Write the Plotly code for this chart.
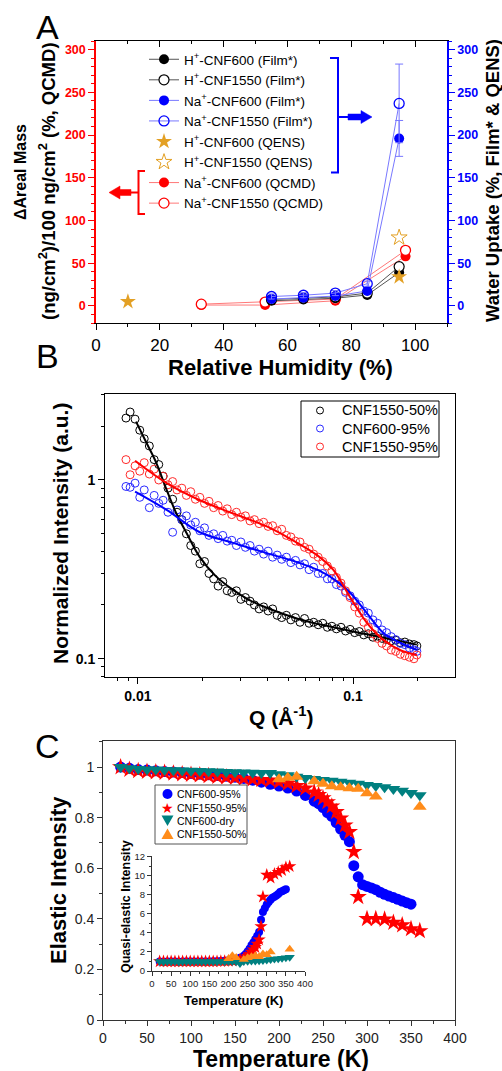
import plotly.graph_objects as go

W, H = 502, 1071
FONT = "Liberation Sans, Arial, sans-serif"


def PX(x):
    return x / W


def PY(y):
    return 1 - y / H


# ---------------- Panel A data ----------------
rh_film = [55, 65, 75, 85, 95]
h600_film = [6, 7.5, 9, 12.8, 39]
h1550_film = [7.5, 9, 10.5, 15, 46]
na600_film = [8, 9.5, 11.5, 17.5, 196]
na600_film_err = [2, 2, 2, 2, 21]
na1550_film = [11, 12.5, 15, 26, 237]
na1550_film_err = [3, 3, 3, 3, 46]
rh_qens600 = [10, 95]
h600_qens = [5, 34]
rh_qens1550 = [95]
h1550_qens = [80]
rh_qcmd = [33, 53, 75, 97]
na600_qcmd = [1, 1, 6, 58]
na1550_qcmd = [2, 4.5, 8, 65]

# ---------------- Panel B data ----------------
q_vals = [0.0088, 0.0092, 0.0097, 0.0102, 0.0107, 0.0113, 0.0119, 0.0125, 0.0131, 0.0138,
          0.0145, 0.0152, 0.016, 0.0168, 0.0176, 0.0185, 0.0194, 0.0204, 0.0214, 0.0225,
          0.0236, 0.0248, 0.026, 0.0273, 0.0287, 0.0301, 0.0316, 0.0332, 0.0348, 0.0366,
          0.0384, 0.0403, 0.0423, 0.0444, 0.0466, 0.049, 0.0514, 0.054, 0.0567, 0.0595,
          0.0625, 0.0656, 0.0689, 0.0723, 0.076, 0.0797, 0.0837, 0.0879, 0.0923, 0.0969,
          0.1018, 0.1069, 0.1122, 0.1178, 0.1237, 0.1299, 0.1364, 0.1432, 0.1504, 0.1579,
          0.1658, 0.1741, 0.1828, 0.1919, 0.198]
i_1550_50 = [2.22, 2.40, 2.19, 1.90, 1.70, 1.55, 1.30, 1.22, 1.05, 0.90,
             0.78, 0.66, 0.60, 0.50, 0.43, 0.40, 0.34, 0.35, 0.30, 0.28,
             0.255, 0.27, 0.24, 0.235, 0.24, 0.215, 0.22, 0.21, 0.20, 0.19,
             0.195, 0.185, 0.19, 0.175, 0.17, 0.175, 0.165, 0.17, 0.16, 0.168,
             0.158, 0.16, 0.155, 0.158, 0.15, 0.152, 0.147, 0.15, 0.143, 0.146,
             0.14, 0.142, 0.136, 0.138, 0.132, 0.134, 0.13, 0.128, 0.126, 0.127,
             0.123, 0.124, 0.121, 0.12, 0.118]
i_600_95 = [0.92, 0.91, 0.96, 0.80, 0.88, 0.70, 0.82, 0.74, 0.77, 0.66,
            0.51, 0.68, 0.60, 0.63, 0.56, 0.58, 0.52, 0.54, 0.49, 0.50,
            0.47, 0.49, 0.455, 0.46, 0.43, 0.45, 0.42, 0.43, 0.40, 0.41,
            0.385, 0.40, 0.37, 0.38, 0.36, 0.37, 0.345, 0.355, 0.335, 0.34,
            0.315, 0.325, 0.30, 0.30, 0.28, 0.28, 0.26, 0.255, 0.235, 0.225,
            0.21, 0.20, 0.185, 0.18, 0.165, 0.158, 0.145, 0.14, 0.133, 0.128,
            0.122, 0.12, 0.115, 0.112, 0.11]
i_1550_95 = [1.30, 1.07, 1.20, 1.12, 1.25, 1.08, 1.15, 1.00, 1.05, 0.94,
             0.98, 0.88, 0.90, 0.82, 0.86, 0.78, 0.80, 0.74, 0.76, 0.70,
             0.72, 0.67, 0.69, 0.64, 0.66, 0.62, 0.63, 0.59, 0.60, 0.57,
             0.58, 0.55, 0.555, 0.52, 0.53, 0.49, 0.48, 0.455, 0.45, 0.42,
             0.41, 0.385, 0.37, 0.35, 0.33, 0.31, 0.285, 0.265, 0.24, 0.22,
             0.195, 0.18, 0.16, 0.15, 0.138, 0.13, 0.122, 0.118, 0.112, 0.11,
             0.106, 0.104, 0.102, 0.10, 0.105]
fit_q_1550_50 = [0.0098, 0.011, 0.0122, 0.0136, 0.015, 0.0169, 0.0194, 0.023, 0.0277, 0.033,
                 0.0397, 0.0567, 0.081, 0.116, 0.198]
fit_i_1550_50 = [2.12, 1.6, 1.24, 0.88, 0.66, 0.50, 0.37, 0.29, 0.243, 0.213,
                 0.193, 0.166, 0.15, 0.137, 0.12]
fit_q_600_95 = [0.0097, 0.0136, 0.0194, 0.0277, 0.0397, 0.0567, 0.070, 0.081, 0.0967, 0.116,
                0.138, 0.165, 0.198]
fit_i_600_95 = [0.86, 0.68, 0.51, 0.445, 0.39, 0.343, 0.31, 0.28, 0.235, 0.18,
                0.14, 0.123, 0.112]
fit_q_1550_95 = [0.0097, 0.0136, 0.0194, 0.0277, 0.0397, 0.0525, 0.068, 0.081, 0.0967, 0.116,
                 0.138, 0.165, 0.198]
fit_i_1550_95 = [1.28, 0.96, 0.77, 0.65, 0.55, 0.46, 0.38, 0.314, 0.222, 0.159,
                 0.128, 0.112, 0.105]

# ---------------- Panel C data ----------------
t_600_95 = [20, 30, 40, 50, 60, 70, 80, 90, 100, 110, 120, 130, 140, 150, 160, 170, 180, 190, 200,
            210, 220, 230, 240, 245, 250, 255, 260, 265, 270, 275, 280, 285, 290, 295, 300,
            305, 310, 315, 320, 325, 330, 335, 340, 345, 350]
el_600_95 = [1.0, 0.995, 0.99, 0.988, 0.985, 0.982, 0.98, 0.978, 0.975, 0.972, 0.97, 0.967, 0.964,
             0.96, 0.955, 0.948, 0.94, 0.932, 0.925,
             0.917, 0.905, 0.888, 0.865, 0.855, 0.84, 0.82, 0.805, 0.78, 0.755, 0.73, 0.705, 0.61,
             0.566, 0.535, 0.528, 0.522, 0.515, 0.505, 0.497, 0.49, 0.484, 0.477, 0.47, 0.464, 0.458]
qe_600_95 = [1.0, 0.98, 1.0, 0.99, 1.0, 0.98, 1.0, 0.99, 1.0, 1.0, 0.99, 1.0, 1.01, 1.0, 1.02,
             1.03, 1.05, 1.08, 1.12,
             1.18, 1.25, 1.4, 1.6, 1.8, 2.05, 2.35, 2.7, 3.0, 3.35, 3.7, 4.1, 5.4, 6.2, 6.6, 7.0,
             7.25, 7.5, 7.7, 7.8, 7.95, 8.1, 8.3, 8.4, 8.5, 8.6]

t_1550_95 = [20, 30, 40, 50, 60, 70, 80, 90, 100, 110, 120, 130, 140, 150, 160, 170, 180, 190, 200,
             210, 220, 230, 240, 245, 250, 255, 260, 265, 270, 275, 280, 285, 290,
             300, 310, 320, 330, 340, 350, 360]
el_1550_95 = [1.0, 0.99, 0.985, 0.982, 0.98, 0.978, 0.975, 0.972, 0.97, 0.968, 0.965, 0.962, 0.96,
              0.958, 0.955, 0.952, 0.95, 0.948, 0.942,
              0.935, 0.926, 0.916, 0.9, 0.89, 0.877, 0.862, 0.845, 0.823, 0.797, 0.77, 0.744,
              0.665, 0.487, 0.40, 0.40, 0.398, 0.385, 0.375, 0.36, 0.352]
qe_1550_95 = [1.0, 1.0, 0.99, 1.0, 1.0, 0.99, 1.0, 1.0, 1.0, 0.99, 1.0, 1.0, 1.0, 1.0, 1.0, 1.01,
              1.02, 1.03, 1.05,
              1.08, 1.12, 1.18, 1.3, 1.4, 1.55, 1.75, 2.0, 2.25, 2.5, 2.85, 3.3, 4.7, 7.8,
              10.1, 9.8, 10.2, 10.4, 10.6, 10.9, 11.0]

t_600_dry = [20, 30, 40, 50, 60, 70, 80, 90, 100, 110, 120, 130, 140, 150, 160, 170, 180, 190,
             200, 210, 220, 230, 240, 250, 260, 270, 280, 290, 300, 310, 320, 330, 340, 350, 360]
el_600_dry = [1.0, 0.995, 0.992, 0.99, 0.99, 0.988, 0.987, 0.986, 0.985, 0.984, 0.983, 0.982,
              0.98, 0.979, 0.978, 0.977, 0.976, 0.976, 0.972, 0.968, 0.962, 0.957, 0.953, 0.949,
              0.946, 0.942, 0.938, 0.934, 0.929, 0.925, 0.92, 0.913, 0.906, 0.897, 0.889]
qe_600_dry = [1.0, 0.95, 1.0, 0.97, 1.0, 0.96, 0.98, 1.0, 0.97, 0.99, 1.0, 0.97, 0.98, 1.0,
              0.98, 0.97, 1.0, 0.98, 1.0, 1.0, 0.98, 0.8, 1.0, 1.02, 1.05, 1.05, 1.08, 1.1,
              1.15, 1.2, 1.25, 1.3, 1.35, 1.4, 1.45]

t_1550_50 = [200, 210, 220, 240, 250, 260, 270, 280, 290, 300, 310, 360]
el_1550_50 = [0.952, 0.958, 0.962, 0.944, 0.934, 0.924, 0.92, 0.916, 0.914, 0.896, 0.884, 0.843]
qe_1550_50 = [1.3, 1.6, 1.4, 1.2, 1.4, 1.5, 1.6, 1.5, 1.8, 1.7, 2.0, 2.3]

# ---------------- colours ----------------
BLK_LINE = "#555555"
BLU = "#0000ff"
BLU_LINE = "#7878ff"
RED = "#ff0000"
RED_LINE = "#ff7878"
GOLD = "#e3a024"
TEAL = "#008080"
ORANGE = "#ff8c1a"

fig = go.Figure()

# ---------------- Panel A traces ----------------
fig.add_trace(go.Scatter(
    x=rh_qcmd, y=na600_qcmd, mode="lines+markers", name="Na<sup>+</sup>-CNF600 (QCMD)",
    line=dict(color=RED_LINE, width=1), marker=dict(symbol="circle", size=10, color=RED),
    legendrank=7, xaxis="x", yaxis="y", legend="legend"))
fig.add_trace(go.Scatter(
    x=rh_qcmd, y=na1550_qcmd, mode="lines+markers", name="Na<sup>+</sup>-CNF1550 (QCMD)",
    line=dict(color=RED_LINE, width=1),
    marker=dict(symbol="circle", size=10, color="white", line=dict(color=RED, width=1.3)),
    legendrank=8, xaxis="x", yaxis="y", legend="legend"))
fig.add_trace(go.Scatter(
    x=rh_film, y=h600_film, mode="lines+markers", name="H<sup>+</sup>-CNF600 (Film*)",
    line=dict(color=BLK_LINE, width=1), marker=dict(symbol="circle", size=10, color="black"),
    legendrank=1, xaxis="x", yaxis="y2", legend="legend"))
fig.add_trace(go.Scatter(
    x=rh_film, y=h1550_film, mode="lines+markers", name="H<sup>+</sup>-CNF1550 (Film*)",
    line=dict(color=BLK_LINE, width=1),
    marker=dict(symbol="circle", size=10, color="white", line=dict(color="black", width=1.2)),
    legendrank=2, xaxis="x", yaxis="y2", legend="legend"))
fig.add_trace(go.Scatter(
    x=rh_film, y=na600_film, mode="lines+markers", name="Na<sup>+</sup>-CNF600 (Film*)",
    line=dict(color=BLU_LINE, width=1), marker=dict(symbol="circle", size=10, color=BLU),
    error_y=dict(type="data", array=na600_film_err, color=BLU_LINE, thickness=1, width=4),
    legendrank=3, xaxis="x", yaxis="y2", legend="legend"))
fig.add_trace(go.Scatter(
    x=rh_film, y=na1550_film, mode="lines+markers", name="Na<sup>+</sup>-CNF1550 (Film*)",
    line=dict(color=BLU_LINE, width=1),
    marker=dict(symbol="circle-open", size=10, color=BLU, line=dict(width=1.3)),
    error_y=dict(type="data", array=na1550_film_err, color=BLU_LINE, thickness=1, width=4),
    legendrank=4, xaxis="x", yaxis="y2", legend="legend"))
fig.add_trace(go.Scatter(
    x=rh_qens600, y=h600_qens, mode="markers", name="H<sup>+</sup>-CNF600 (QENS)",
    marker=dict(symbol="star", size=12, color=GOLD, line=dict(width=0)),
    legendrank=5, xaxis="x", yaxis="y2", legend="legend"))
fig.add_trace(go.Scatter(
    x=rh_qens1550, y=h1550_qens, mode="markers", name="H<sup>+</sup>-CNF1550 (QENS)",
    marker=dict(symbol="star-open", size=12, color=GOLD, line=dict(width=1)),
    legendrank=6, xaxis="x", yaxis="y2", legend="legend"))
# empty trace so the mirrored top axis of panel A is drawn
fig.add_trace(go.Scatter(x=[None], y=[None], xaxis="x2", yaxis="y", showlegend=False,
                         hoverinfo="skip"))

# ---------------- Panel B traces ----------------
for ys, col in [(i_1550_50, "black"), (i_600_95, "#2a2aff"), (i_1550_95, "#ff2a2a")]:
    fig.add_trace(go.Scatter(
        x=q_vals, y=ys, mode="markers", showlegend=False, xaxis="x3", yaxis="y3",
        marker=dict(symbol="circle-open", size=8, color=col, line=dict(width=1))))
for fx, fy, col in [(fit_q_1550_50, fit_i_1550_50, "black"),
                    (fit_q_600_95, fit_i_600_95, "#0000ff"),
                    (fit_q_1550_95, fit_i_1550_95, "#ff0000")]:
    fig.add_trace(go.Scatter(
        x=fx, y=fy, mode="lines", showlegend=False, xaxis="x3", yaxis="y3",
        line=dict(color=col, width=2, shape="spline", smoothing=1.0)))

# ---------------- Panel C traces ----------------
fig.add_trace(go.Scatter(x=t_600_95, y=el_600_95, mode="markers", showlegend=False,
                         xaxis="x4", yaxis="y4",
                         marker=dict(symbol="circle", size=11, color=BLU)))
fig.add_trace(go.Scatter(x=t_1550_95, y=el_1550_95, mode="markers", showlegend=False,
                         xaxis="x4", yaxis="y4",
                         marker=dict(symbol="star", size=13, color=RED)))
fig.add_trace(go.Scatter(x=t_600_dry, y=el_600_dry, mode="markers", showlegend=False,
                         xaxis="x4", yaxis="y4",
                         marker=dict(symbol="triangle-down", size=12, color=TEAL)))
fig.add_trace(go.Scatter(x=t_1550_50, y=el_1550_50, mode="markers", showlegend=False,
                         xaxis="x4", yaxis="y4",
                         marker=dict(symbol="triangle-up", size=12, color=ORANGE)))
# inset
fig.add_trace(go.Scatter(x=t_600_95, y=qe_600_95, mode="markers", showlegend=False,
                         xaxis="x5", yaxis="y5",
                         marker=dict(symbol="circle", size=8, color=BLU)))
fig.add_trace(go.Scatter(x=t_1550_95, y=qe_1550_95, mode="markers", showlegend=False,
                         xaxis="x5", yaxis="y5",
                         marker=dict(symbol="star", size=10, color=RED)))
fig.add_trace(go.Scatter(x=t_600_dry, y=qe_600_dry, mode="markers", showlegend=False,
                         xaxis="x5", yaxis="y5",
                         marker=dict(symbol="triangle-down", size=9, color=TEAL)))
fig.add_trace(go.Scatter(x=t_1550_50, y=qe_1550_50, mode="markers", showlegend=False,
                         xaxis="x5", yaxis="y5",
                         marker=dict(symbol="triangle-up", size=9, color=ORANGE)))

# ---------------- axes ----------------
common = dict(showgrid=False, zeroline=False)
b_minor_x = [0.008, 0.009, 0.02, 0.03, 0.04, 0.05, 0.06, 0.07, 0.08, 0.09, 0.2]
b_minor_y = [0.08, 0.09, 0.2, 0.3, 0.4, 0.5, 0.6, 0.7, 0.8, 0.9, 2, 3]

fig.update_layout(
    width=W, height=H, margin=dict(l=0, r=0, t=0, b=0, autoexpand=False),
    paper_bgcolor="white", plot_bgcolor="white",
    font=dict(family=FONT, color="black"),
    xaxis=dict(domain=[PX(96), PX(447)], range=[0, 110], anchor="y", tick0=0, dtick=20,
               ticks="outside", ticklen=6, tickwidth=1.2, tickcolor="black",
               minor=dict(tick0=0, dtick=10, ticks="outside", ticklen=3, tickcolor="black"),
               showline=True, linecolor="black", linewidth=1.2,
               tickfont=dict(family=FONT, size=17, color="black"), **common),
    xaxis2=dict(overlaying="x", side="top", anchor="y", range=[0, 110], tick0=0, dtick=20,
                ticks="inside", ticklen=6, tickwidth=1.2, tickcolor="black",
                minor=dict(tick0=0, dtick=10, ticks="inside", ticklen=3, tickcolor="black"),
                showticklabels=False, showline=True, linecolor="black", linewidth=1.2, **common),
    yaxis=dict(domain=[PY(323), PY(41)], range=[-20, 310], anchor="x", tick0=0, dtick=50,
               ticks="outside", ticklen=6, tickwidth=1.2, tickcolor=RED,
               minor=dict(tick0=0, dtick=10, ticks="outside", ticklen=3, tickcolor=RED),
               showline=True, linecolor=RED, linewidth=1.5,
               tickfont=dict(family=FONT, size=12.5, color=RED, weight="bold"), **common),
    yaxis2=dict(overlaying="y", side="right", anchor="x", range=[-20, 310], tick0=0, dtick=50,
                ticks="outside", ticklen=6, tickwidth=1.2, tickcolor=BLU,
                minor=dict(tick0=0, dtick=10, ticks="outside", ticklen=3, tickcolor=BLU),
                showline=True, linecolor=BLU, linewidth=1.5,
                tickfont=dict(family=FONT, size=12.5, color=BLU, weight="bold"), **common),
    xaxis3=dict(type="log", domain=[PX(105), PX(455)], range=[-2.153, -0.526], anchor="y3",
                tickmode="array", tickvals=[0.01, 0.1], ticktext=["0.01", "0.1"],
                ticks="outside", ticklen=6, tickcolor="black",
                minor=dict(tickmode="array", tickvals=b_minor_x, ticks="outside", ticklen=3,
                           tickcolor="black"),
                showline=True, mirror=True, linecolor="black", linewidth=1,
                tickfont=dict(family=FONT, size=14, color="black", weight="bold"), **common),
    yaxis3=dict(type="log", domain=[PY(677), PY(394)], range=[-1.102, 0.481], anchor="x3",
                tickmode="array", tickvals=[0.1, 1], ticktext=["0.1", "1"],
                ticks="outside", ticklen=6, tickcolor="black",
                minor=dict(tickmode="array", tickvals=b_minor_y, ticks="outside", ticklen=3,
                           tickcolor="black"),
                showline=True, mirror=True, linecolor="black", linewidth=1,
                tickfont=dict(family=FONT, size=14, color="black", weight="bold"), **common),
    xaxis4=dict(domain=[PX(103), PX(455)], range=[0, 400], anchor="y4", tick0=0, dtick=50,
                ticks="outside", ticklen=5, tickcolor="#333",
                minor=dict(tick0=0, dtick=25, ticks="outside", ticklen=3, tickcolor="#333"),
                showline=True, mirror=True, linecolor="#333", linewidth=1,
                tickfont=dict(family=FONT, size=14, color="#222"), **common),
    yaxis4=dict(domain=[PY(1020), PY(741)], range=[0, 1.103], anchor="x4", tick0=0, dtick=0.2,
                ticks="outside", ticklen=5, tickcolor="#333",
                minor=dict(tick0=0, dtick=0.1, ticks="outside", ticklen=3, tickcolor="#333"),
                showline=True, mirror=True, linecolor="#333", linewidth=1,
                tickfont=dict(family=FONT, size=14, color="#222"), **common),
    xaxis5=dict(domain=[PX(152), PX(305)], range=[0, 400], anchor="y5", tick0=0, dtick=50,
                ticks="outside", ticklen=4, tickcolor="#333",
                minor=dict(tick0=0, dtick=25, ticks="outside", ticklen=2, tickcolor="#333"),
                showline=True, linecolor="#333", linewidth=1,
                tickfont=dict(family=FONT, size=9.5, color="#222"), **common),
    yaxis5=dict(domain=[PY(971), PY(856)], range=[0, 12.1], anchor="x5", tick0=0, dtick=2,
                ticks="outside", ticklen=4, tickcolor="#333",
                minor=dict(tick0=0, dtick=1, ticks="outside", ticklen=2, tickcolor="#333"),
                showline=True, linecolor="#333", linewidth=1,
                tickfont=dict(family=FONT, size=9.5, color="#222"), **common),
    legend=dict(x=PX(144), y=PY(44), xanchor="left", yanchor="top", bgcolor="rgba(0,0,0,0)",
                font=dict(family=FONT, size=13.5, color="black"), tracegroupgap=0, itemwidth=30,
                borderwidth=0),
)

# ---------------- decorations (brackets, arrows, manual legends) ----------------
def path(points, close=False):
    s = "M " + " L ".join(f"{PX(x):.5f},{PY(y):.5f}" for x, y in points)
    return s + (" Z" if close else "")


shapes = []
# blue bracket + arrow (Film*/QENS -> right axis)
shapes.append(dict(type="path", xref="paper", yref="paper",
                   path=path([(330, 58), (338, 58), (338, 172.5), (331, 172.5)]),
                   line=dict(color=BLU, width=2)))
shapes.append(dict(type="path", xref="paper", yref="paper",
                   path=path([(338, 117), (349, 117)]), line=dict(color=BLU, width=2)))
shapes.append(dict(type="path", xref="paper", yref="paper",
                   path=path([(348, 114), (361, 114), (361, 110.5), (372, 117), (361, 123.5),
                              (361, 120), (348, 120)], close=True),
                   fillcolor=BLU, line=dict(color=BLU, width=0.5)))
# red bracket + arrow (QCMD -> left axis)
shapes.append(dict(type="path", xref="paper", yref="paper",
                   path=path([(145, 171), (138.5, 171), (138.5, 214), (145, 214)]),
                   line=dict(color=RED, width=2)))
shapes.append(dict(type="path", xref="paper", yref="paper",
                   path=path([(138.5, 192.5), (130, 192.5)]), line=dict(color=RED, width=2)))
shapes.append(dict(type="path", xref="paper", yref="paper",
                   path=path([(131, 189.5), (120, 189.5), (120, 186), (109, 192.5), (120, 199),
                              (120, 195.5), (131, 195.5)], close=True),
                   fillcolor=RED, line=dict(color=RED, width=0.5)))

# panel B legend box
shapes.append(dict(type="rect", xref="paper", yref="paper",
                   x0=PX(301), x1=PX(439), y0=PY(457), y1=PY(401),
                   line=dict(color="black", width=1), fillcolor="white", layer="above"))
b_leg = [("CNF1550-50%", "black", 410.5), ("CNF600-95%", "#2a2aff", 428.5),
         ("CNF1550-95%", "#ff2a2a", 446.5)]
for _, col, yy in b_leg:
    shapes.append(dict(type="circle", xref="paper", yref="paper",
                       x0=PX(316.5), x1=PX(323.5), y0=PY(yy + 3.5), y1=PY(yy - 3.5),
                       line=dict(color=col, width=1), layer="above"))

# panel C legend box
shapes.append(dict(type="rect", xref="paper", yref="paper",
                   x0=PX(155), x1=PX(247), y0=PY(844), y1=PY(785),
                   line=dict(color="#555", width=1), fillcolor="white", layer="above"))
shapes.append(dict(type="circle", xref="paper", yref="paper",
                   x0=PX(162.5), x1=PX(172.5), y0=PY(799), y1=PY(789),
                   fillcolor=BLU, line=dict(color=BLU, width=0), layer="above"))
shapes.append(dict(type="path", xref="paper", yref="paper",
                   path=path([(161.5, 815.5), (173.5, 815.5), (167.5, 826)], close=True),
                   fillcolor=TEAL, line=dict(color=TEAL, width=0), layer="above"))
shapes.append(dict(type="path", xref="paper", yref="paper",
                   path=path([(161.5, 839), (173.5, 839), (167.5, 828.5)], close=True),
                   fillcolor=ORANGE, line=dict(color=ORANGE, width=0), layer="above"))

fig.update_layout(shapes=shapes)

ann = []


def text(x, y, s, size, bold=False, angle=0, color="black", xanchor="center", family=FONT):
    ann.append(dict(x=PX(x), y=PY(y), xref="paper", yref="paper", text=s, showarrow=False,
                    textangle=angle, xanchor=xanchor, yanchor="middle",
                    font=dict(family=family, size=size, color=color,
                              weight="bold" if bold else "normal")))


# panel labels
text(47, 27, "A", 34)
text(47, 356, "B", 34)
text(47, 746, "C", 34)
# panel A titles
text(280, 367, "Relative Humidity (%)", 22, bold=True)
text(21, 172, "ΔAreal Mass", 16, bold=True, angle=-90)
text(47, 181, "(ng/cm<sup>2</sup>)/100 ng/cm<sup>2</sup> (%, QCMD)", 18.5, bold=True, angle=-90)
text(492, 181, "Water Uptake (%, Film* &amp; QENS)", 18.5, bold=True, angle=-90)
# panel B titles + legend text
text(60, 534, "Normalized Intensity (a.u.)", 21, bold=True, angle=-90)
text(281, 716, "Q (Å<sup>-1</sup>)", 21, bold=True)
for lab, _, yy in b_leg:
    text(340, yy, lab, 14.5, xanchor="left")
# panel C titles + legend text
text(58, 880, "Elastic Intensity", 22, bold=True, angle=-90)
text(281, 1059, "Temperature (K)", 23, bold=True)
text(233, 1000, "Temperature (K)", 13, bold=True)
text(126, 907, "Quasi-elastic Intensity", 12.5, bold=True, angle=-90)
c_leg = [("CNF600-95%", 794), ("CNF1550-95%", 807.5), ("CNF600-dry", 821), ("CNF1550-50%", 834)]
for lab, yy in c_leg:
    text(175, yy, lab, 10.5, xanchor="left")
text(167.5, 807.5, "★", 14, color=RED, family="DejaVu Sans")

fig.update_layout(annotations=ann)

# remove the browser's default 8px page margin so the figure sits at the window origin
fig.write_html("out.html", config={"displayModeBar": False},
               post_script="document.body.style.margin='0px';")
